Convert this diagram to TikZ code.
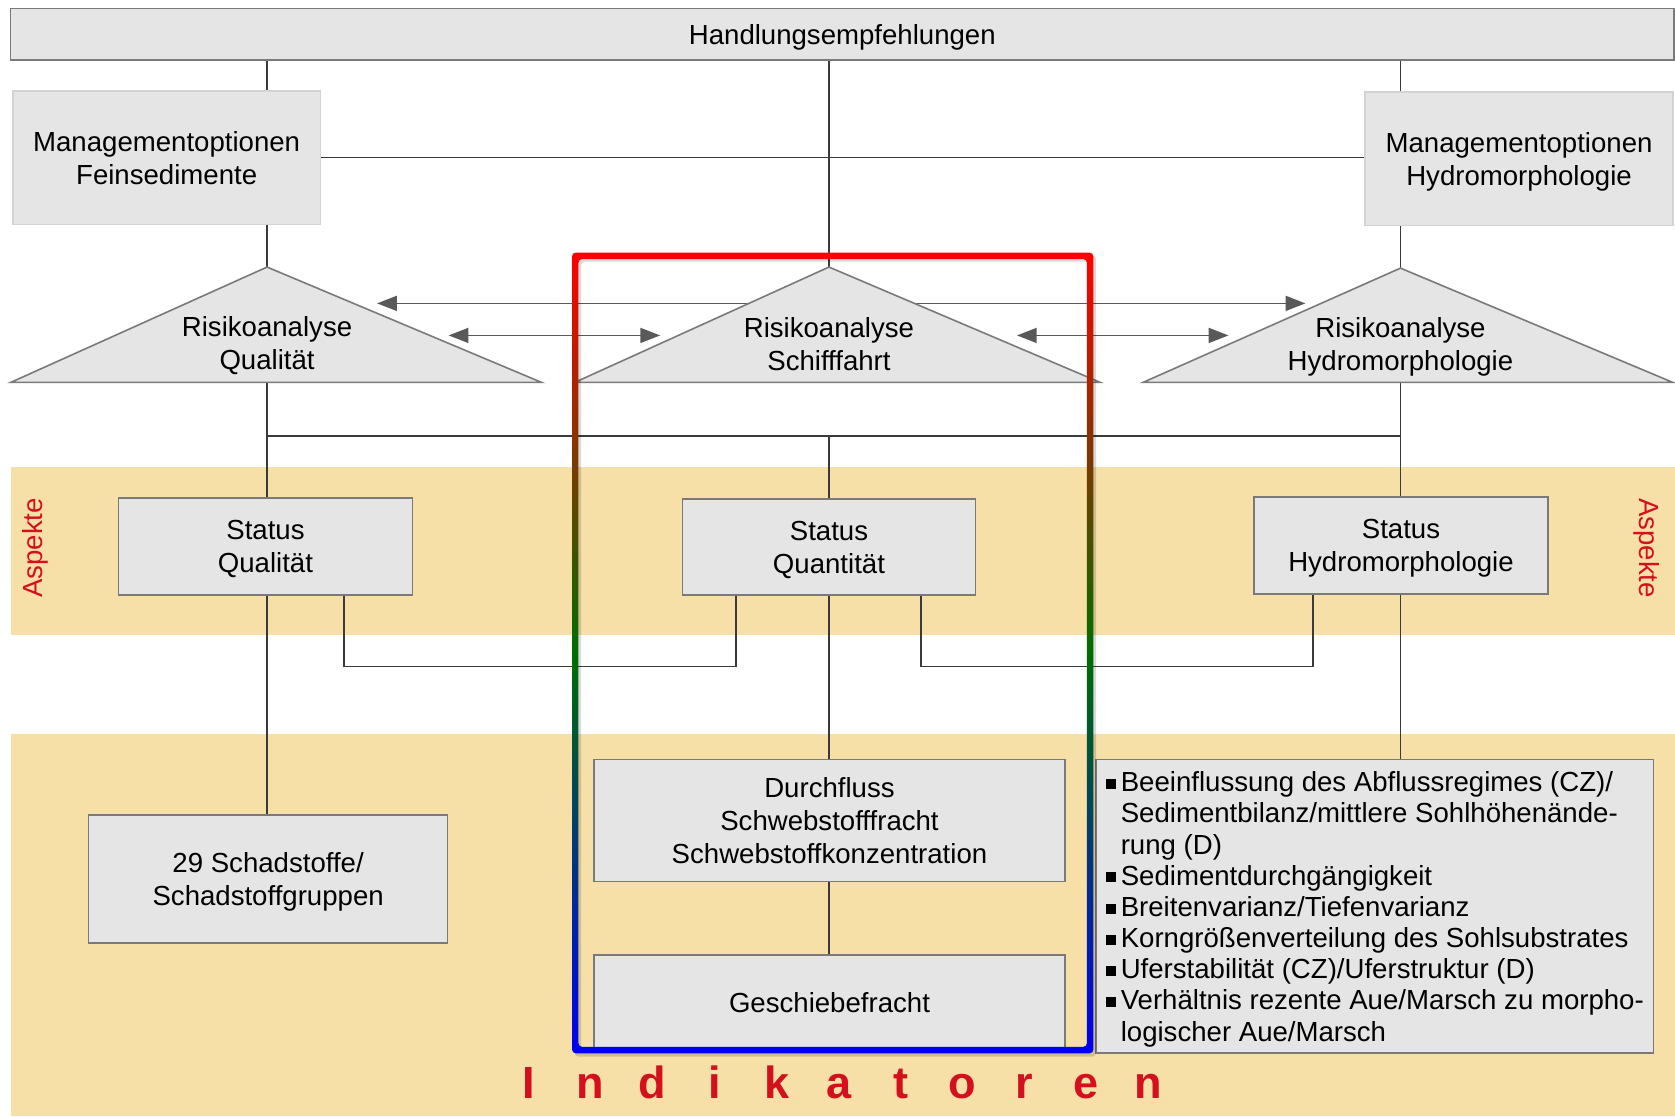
\documentclass[tikz,border=0pt]{standalone}
\usepackage{fontspec}
\setmainfont{Liberation Sans}
\usetikzlibrary{arrows.meta,backgrounds}
\definecolor{boxfill}{HTML}{E4E5E4}
\definecolor{boxline}{HTML}{7A7A7A}
\definecolor{mgline}{HTML}{D2D3D2}
\definecolor{band}{HTML}{F6E0A7}
\definecolor{wire}{HTML}{3A3A3A}
\definecolor{arrowgray}{HTML}{595959}
\definecolor{labelred}{HTML}{D4101E}
\definecolor{frmred}{HTML}{FF0000}
\definecolor{frmgreen}{HTML}{006E00}
\definecolor{frmblue}{HTML}{0000F2}
\newcommand\bsq{\makebox[2.8mm][l]{\rule[0.1em]{1.9mm}{1.9mm}}}
\newcommand\bind{\hspace*{2.8mm}}
\tikzset{
  box/.style={draw=boxline, fill=boxfill, line width=0.3mm, align=center, inner sep=0pt, text depth=-1.4pt},
  mgbox/.style={box, draw=mgline},
  tri/.style={draw=boxline, fill=boxfill, line width=0.3mm},
  trilabel/.style={align=center, text depth=-1.4pt},
  wireline/.style={draw=wire, line width=0.3mm},
  twoway/.style={draw=arrowgray, line width=0.3mm,
    {Triangle[length=3.7mm,width=2.8mm]}-{Triangle[length=3.7mm,width=2.8mm]}},
  aspekt/.style={text=labelred},
  indik/.style={text=labelred, font=\fontsize{24pt}{28pt}\selectfont\bfseries, anchor=base},
}
\begin{document}
\begin{tikzpicture}[x=0.2mm,y=-0.2mm,font=\fontsize{14.7pt}{17.6pt}\selectfont]
  \useasboundingbox (0,0) rectangle (1568,1045);
  % Risikoanalysen: Dreiecke (Spitze A, Basis L/R)
  \coordinate (rqA) at (250,250);  \coordinate (rqL) at (10,358);   \coordinate (rqR) at (507,358);
  \coordinate (rsA) at (776,250);  \coordinate (rsL) at (538,358);  \coordinate (rsR) at (1030,358);
  \coordinate (rhA) at (1311,251); \coordinate (rhL) at (1070,358); \coordinate (rhR) at (1566,358);
  \coordinate (rqB) at (rqA |- rqL);
  \coordinate (rhB) at (rhA |- rhL);
  \coordinate (jn) at (776,408);
  \draw[tri] (rqA) -- (rqR) -- (rqL) -- cycle;
  \draw[tri] (rsA) -- (rsR) -- (rsL) -- cycle;
  \draw[tri] (rhA) -- (rhR) -- (rhL) -- cycle;
  \node[trilabel] (rq) at (250,321) {Risikoanalyse\\Qualität};
  \node[trilabel] (rs) at (776,322) {Risikoanalyse\\Schifffahrt};
  \node[trilabel] (rh) at (1311,322) {Risikoanalyse\\Hydromorphologie};
  % Kästen
  \node[box, minimum width=311.4mm, minimum height=9.6mm] (top) at (788.5,32) {Handlungsempfehlungen};
  \node[mgbox, minimum width=57.6mm, minimum height=25mm] (mgF) at (156,147.5) {Managementoptionen\\Feinsedimente};
  \node[mgbox, minimum width=57.6mm, minimum height=25mm] (mgH) at (1422,148.5) {Managementoptionen\\Hydromorphologie};
  \node[box, minimum width=55mm, minimum height=18.2mm] (statQ) at (248.5,511.5) {Status\\Qualität};
  \node[box, minimum width=54.8mm, minimum height=18mm] (statS) at (776,512) {Status\\Quantität};
  \node[box, minimum width=55mm, minimum height=18.2mm] (statH) at (1311.5,510.5) {Status\\Hydromorphologie};
  \node[box, minimum width=67.2mm, minimum height=24mm] (schad) at (251,823) {29 Schadstoffe/\\Schadstoffgruppen};
  \node[box, minimum width=88.2mm, minimum height=22.8mm] (durch) at (776.5,768) {Durchfluss\\Schwebstofffracht\\Schwebstoffkonzentration};
  \node[box, minimum width=88.2mm, minimum height=17.6mm] (gesch) at (776.5,938) {Geschiebefracht};
  \node[box, minimum width=104.4mm, minimum height=55mm, align=left,
        font=\fontsize{14.7pt}{16.6pt}\selectfont] (bul) at (1287,848.5) {%
    \bsq Beeinflussung des Abflussregimes (CZ)/\\
    \bind Sedimentbilanz/mittlere Sohlhöhenände-\\
    \bind rung (D)\\
    \bsq Sedimentdurchgängigkeit\\
    \bsq Breitenvarianz/Tiefenvarianz\\
    \bsq Korngrößenverteilung des Sohlsubstrates\\
    \bsq Uferstabilität (CZ)/Uferstruktur (D)\\
    \bsq Verhältnis rezente Aue/Marsch zu morpho-\\
    \bind logischer Aue/Marsch};
  % Beschriftungen
  \node[aspekt, rotate=90] (aspL) at (33,513) {Aspekte};
  \node[aspekt, rotate=-90] (aspR) at (1541,513) {Aspekte};
  \foreach \ch [count=\i from 0] in {I,n,d,i,k,a,t,o,r,e,n}
    \node[indik] (ind\i) at (495+58*\i,1028) {\ch};
  % Pfeile zwischen den Risikoanalysen
  \coordinate (upL) at (353,284);  \coordinate (upR) at (1222,284);
  \coordinate (loL1) at (420,314); \coordinate (loR1) at (618,314);
  \coordinate (loL2) at (952,314); \coordinate (loR2) at (1150,314);
  \begin{scope}[on background layer]
    \fill[band] (10,437) rectangle (1568,594);
    \fill[band] (10,687) rectangle (1568,1045);
    \draw[wireline] (top.south -| rqA) -- (rqA);
    \draw[wireline] (top.south -| rsA) -- (rsA);
    \draw[wireline] (top.south -| rhA) -- (rhA);
    \draw[wireline] (mgF.east) -- (mgF.east -| mgH.west);
    \draw[wireline] (rqB) -- (rqB |- statQ.north);
    \draw[wireline] (rhB) -- (rhB |- statH.north);
    \draw[wireline] (rqB |- jn) -- (rhB |- jn);
    \draw[wireline] (jn) -- (statS.north);
    \draw[wireline] ([xshift=14.7mm]statQ.south) -- ++(0,66) -| ([xshift=-17.4mm]statS.south);
    \draw[wireline] ([xshift=17.2mm]statS.south) -- ++(0,66) -| ([xshift=-16.5mm]statH.south);
    \draw[wireline] (rqB |- statQ.south) -- (rqB |- schad.north);
    \draw[wireline] (statS.south) -- (statS.south |- durch.north);
    \draw[wireline] (rhB |- statH.south) -- (rhB |- bul.north);
    \draw[wireline] (statS.south |- durch.south) -- (statS.south |- gesch.north);
    \draw[twoway] (upL) -- (upR);
    \draw[twoway] (loL1) -- (loR1);
    \draw[twoway] (loL2) -- (loR2);
  \end{scope}
  % Rahmen mit Farbverlauf
  \fill[black, opacity=0.15, even odd rule, rounded corners=2]
    (538,239) rectangle (1026,989) (544,245) rectangle (1020,983);
  \shade[even odd rule, rounded corners=2, top color=frmred, bottom color=frmblue, middle color=frmgreen]
    (535.5,236.5) rectangle (1023.5,986) (541.5,242.5) rectangle (1017.5,980);
\end{tikzpicture}
\end{document}
